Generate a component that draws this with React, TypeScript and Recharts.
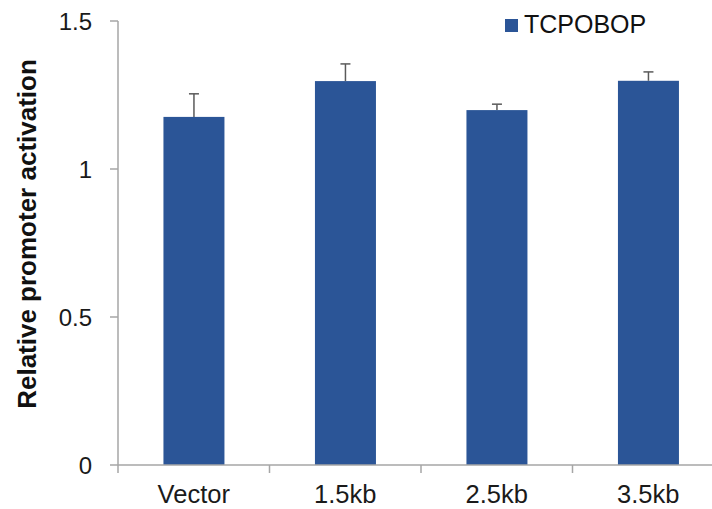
import React from 'react';
import { BarChart, Bar, XAxis, YAxis, Legend } from 'recharts';

const categories = ['Vector', '1.5kb', '2.5kb', '3.5kb'];
const values = [1.176, 1.297, 1.199, 1.298];
const errors = [0.078, 0.058, 0.02, 0.03];
const yTicks = [0, 0.5, 1, 1.5];
const seriesName = 'TCPOBOP';
const yTitle = 'Relative promoter activation';

const data = categories.map((c, i) => ({ name: c, value: values[i], err: errors[i] }));

const CHART_W = 740;
const CHART_H = 509;
const Y_AXIS_W = 118;
const RIGHT_M = 16;
const TOP_M = 21;
const X_AXIS_H = 44;
const BAND = (CHART_W - Y_AXIS_W - RIGHT_M) / categories.length;

const BAR_COLOR = '#2B5597';
const AXIS_COLOR = '#A6A6A6';
const ERR_COLOR = '#5A5A5A';
const FONT = 'Liberation Sans, Arial, sans-serif';

const XTick = (props: any) => {
  const { x, y, payload } = props;
  const bx = x - BAND / 2;
  return (
    <g>
      <line x1={bx} x2={bx} y1={y} y2={y + 8} stroke={AXIS_COLOR} strokeWidth={1.5} />
      <text x={x} y={y + 38} textAnchor="middle" fontFamily={FONT} fontSize={25.5} fill="#1a1a1a">
        {payload.value}
      </text>
    </g>
  );
};

const BarWithError = (props: any) => {
  const { x, y, width, height, payload, value } = props;
  const v = Array.isArray(value) ? value[1] - value[0] : value;
  const pxPerUnit = v ? height / v : 0;
  const topY = y - payload.err * pxPerUnit;
  const cx = x + width / 2;
  return (
    <g>
      <rect x={x} y={y} width={width} height={height} fill={BAR_COLOR} />
      <line x1={cx} x2={cx} y1={y} y2={topY} stroke={ERR_COLOR} strokeWidth={1.5} />
      <line x1={cx - 5} x2={cx + 5} y1={topY} y2={topY} stroke={ERR_COLOR} strokeWidth={1.5} />
    </g>
  );
};

const renderLegend = () => (
  <div style={{ position: 'relative', width: 180, height: 40 }}>
    <div style={{ position: 'absolute', left: 0, top: 19, width: 13, height: 13, background: BAR_COLOR }} />
    <span
      style={{
        position: 'absolute',
        left: 19,
        top: 12,
        fontFamily: FONT,
        fontSize: 25,
        lineHeight: '25px',
        color: '#111',
        whiteSpace: 'nowrap',
      }}
    >
      {seriesName}
    </span>
  </div>
);

const renderYTitle = () => (
  <text
    transform="translate(27,234) rotate(-90)"
    textAnchor="middle"
    dominantBaseline="central"
    fontFamily={FONT}
    fontWeight="bold"
    fontSize={26}
    fill="#111"
  >
    {yTitle}
  </text>
);

export default function App() {
  return (
    <div
      style={{
        position: 'fixed',
        left: 0,
        top: 0,
        width: 712,
        height: 509,
        overflow: 'hidden',
        background: '#fff',
      }}
    >
      <BarChart
        width={CHART_W}
        height={CHART_H}
        data={data}
        margin={{ top: TOP_M, right: RIGHT_M, bottom: 0, left: 0 }}
        barCategoryGap="30%"
      >
        <XAxis
          dataKey="name"
          height={X_AXIS_H}
          tickLine={false}
          tickSize={0}
          tickMargin={0}
          axisLine={{ stroke: AXIS_COLOR, strokeWidth: 1.5 }}
          tick={<XTick />}
          interval={0}
        />
        <YAxis
          width={Y_AXIS_W}
          domain={[0, 1.5]}
          ticks={yTicks}
          allowDataOverflow
          tickSize={8}
          tickMargin={18}
          tickLine={{ stroke: AXIS_COLOR, strokeWidth: 1.5 }}
          axisLine={{ stroke: AXIS_COLOR, strokeWidth: 1.5 }}
          tick={{ fontFamily: FONT, fontSize: 24, fill: '#1a1a1a' }}
          label={{ content: renderYTitle }}
        />
        <Legend
          layout="horizontal"
          verticalAlign="middle"
          align="center"
          content={renderLegend}
          wrapperStyle={{ position: 'absolute', left: 505, top: 0, width: 180, height: 40 }}
        />
        <Bar
          dataKey="value"
          name={seriesName}
          fill={BAR_COLOR}
          isAnimationActive={false}
          shape={<BarWithError />}
        />
      </BarChart>
    </div>
  );
}
